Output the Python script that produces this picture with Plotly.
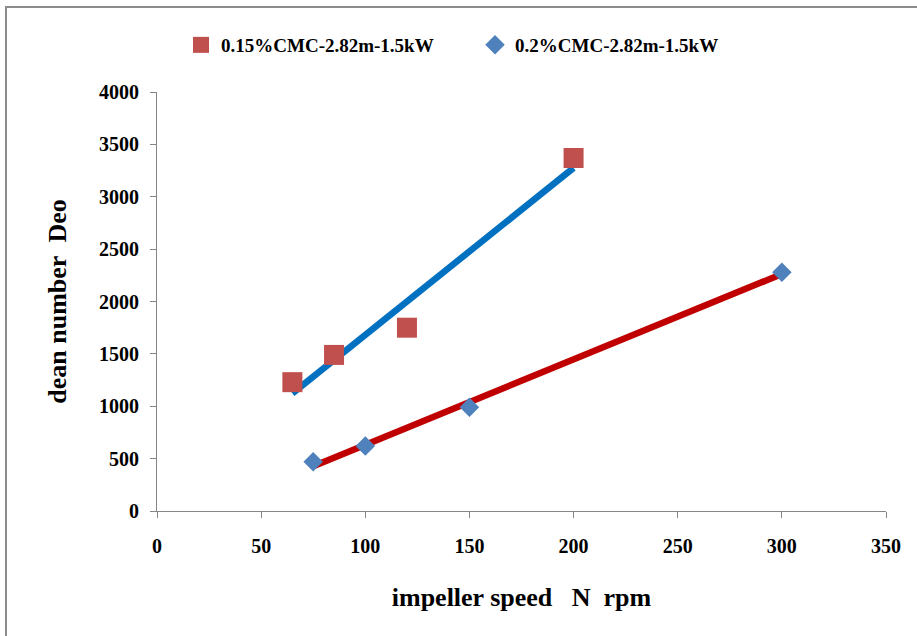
import plotly.graph_objects as go
import numpy as np

# Data
speed_015 = [65, 85, 120, 200]
deo_015 = [1230, 1490, 1750, 3370]
speed_02 = [75, 100, 150, 300]
deo_02 = [470, 620, 990, 2280]

name_015 = "0.15%CMC-2.82m-1.5kW"
name_02 = "0.2%CMC-2.82m-1.5kW"

x_ticks = [0, 50, 100, 150, 200, 250, 300, 350]
y_ticks = [0, 500, 1000, 1500, 2000, 2500, 3000, 3500, 4000]


def linfit(x, y):
    x = np.array(x, float); y = np.array(y, float)
    m, c = np.polyfit(x, y, 1)
    xs = [x.min(), x.max()]
    return xs, [m * v + c for v in xs]

fx1, fy1 = linfit(speed_015, deo_015)
fx2, fy2 = linfit(speed_02, deo_02)

font = "Liberation Serif, Times New Roman, serif"
axis_grey = "#868686"

fig = go.Figure()
fig.add_trace(go.Scatter(x=fx1, y=fy1, mode="lines", line=dict(color="#0070C0", width=6.5),
                         showlegend=False, hoverinfo="skip"))
fig.add_trace(go.Scatter(x=fx2, y=fy2, mode="lines", line=dict(color="#C00000", width=6.5),
                         showlegend=False, hoverinfo="skip"))
fig.add_trace(go.Scatter(x=speed_015, y=deo_015, mode="markers", name=name_015,
                         marker=dict(symbol="square", color="#C0504D", size=20)))
fig.add_trace(go.Scatter(x=speed_02, y=deo_02, mode="markers", name=name_02,
                         marker=dict(symbol="diamond", color="#4F81BD", size=15)))

L, R, T, B = 157, 31, 92, 125
W, H = 917, 636
pw, ph = W - L - R, H - T - B

def px2x(p):
    return (p - L) / pw

def py2y(p):
    return (H - B - p) / ph

fig.add_shape(type="rect", xref="paper", yref="paper",
              x0=px2x(6), x1=px2x(930), y0=py2y(650), y1=py2y(7),
              line=dict(color="#8C8C8C", width=2), fillcolor="rgba(0,0,0,0)", layer="below")

fig.update_layout(
    width=W, height=H,
    margin=dict(l=L, r=R, t=T, b=B),
    paper_bgcolor="white", plot_bgcolor="white",
    font=dict(family=font, color="black"),
    legend=dict(orientation="h", x=px2x(181), xanchor="left", y=py2y(45), yanchor="middle",
                font=dict(size=19, family=font, weight="bold"), entrywidth=249,
                itemwidth=30, bgcolor="rgba(0,0,0,0)"),
    xaxis=dict(range=[0, 350], tickvals=x_ticks, showgrid=False, zeroline=False,
               showline=True, linecolor=axis_grey, linewidth=1, ticks="outside", ticklen=6,
               tickcolor=axis_grey, ticklabelstandoff=11,
               tickfont=dict(size=20, family=font, weight="bold"),
               title=dict(text="impeller speed\u00a0\u00a0\u00a0N\u00a0\u00a0rpm",
                          font=dict(size=26, family=font, weight="bold"), standoff=31)),
    yaxis=dict(range=[0, 4000], tickvals=y_ticks, showgrid=False, zeroline=False,
               showline=True, linecolor=axis_grey, linewidth=1, ticks="outside", ticklen=6,
               tickcolor=axis_grey, ticklabelstandoff=7,
               tickfont=dict(size=20, family=font, weight="bold"),
               title=dict(text="dean number\u00a0\u00a0Deo",
                          font=dict(size=26, family=font, weight="bold"), standoff=24)),
)

fig.write_html("out.html", config={"displayModeBar": False},
               post_script="document.body.style.margin='0';")
